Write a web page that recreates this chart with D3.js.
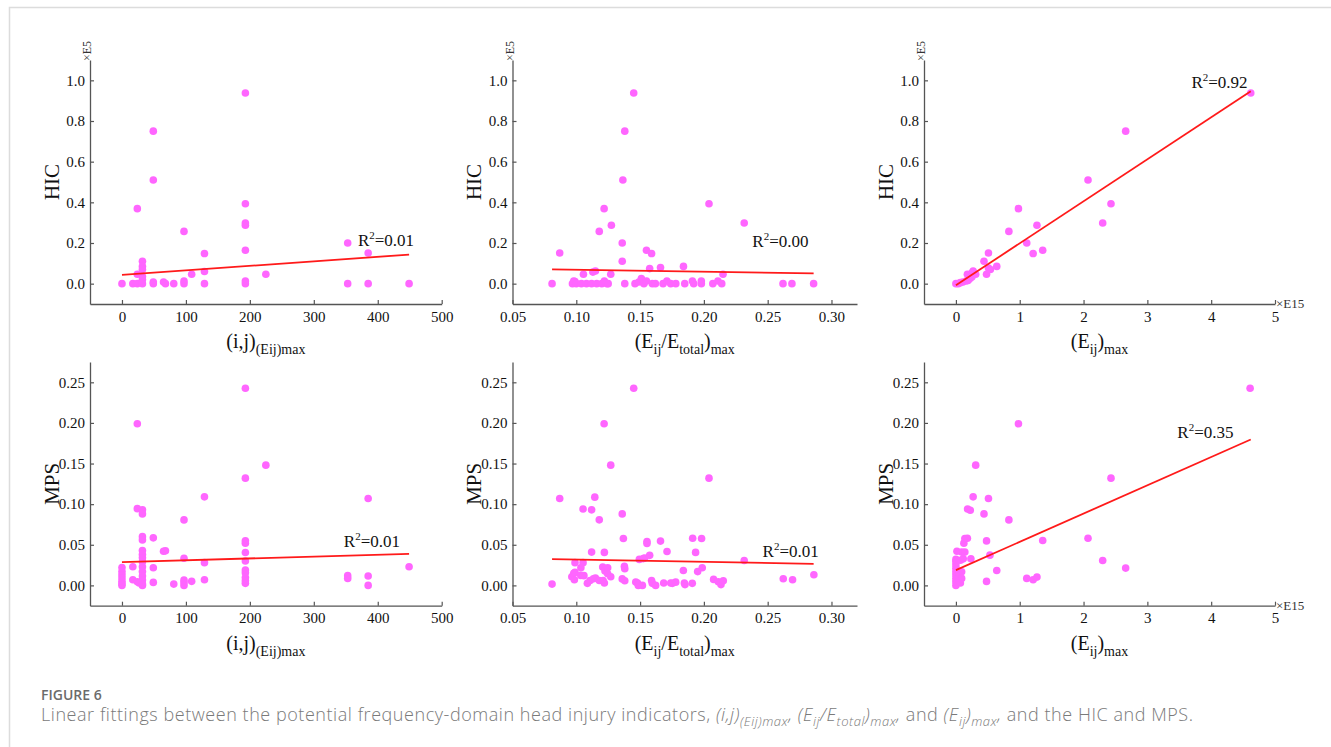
<!DOCTYPE html>
<html>
<head>
<meta charset="utf-8">
<script src="https://cdn.jsdelivr.net/npm/d3@7"></script>
<style>
  body { margin: 0; background: #fff; }
  svg { display: block; }
</style>
</head>
<body>
<div id="chart"></div>
<script>
// ---- data ----
// HIC (x1e5) against (i,j)(Eij)max
const hicIj = [[0,0],[17,0],[24,0],[24,0.369],[24,0.046],[32,0.11],[32,0.085],[32,0.07],[32,0.035],[32,0.02],[32,0],
  [49,0.75],[49,0.51],[49,0.008],[49,0],[65,0.008],[68,0],[81,0],[97,0.257],[97,0.013],[97,0],[109,0.046],
  [129,0.148],[129,0.06],[129,0],[193,0.938],[193,0.393],[193,0.298],[193,0.287],[193,0.164],[193,0.013],[193,0],
  [225,0.046],[353,0.2],[353,0],[385,0.151],[385,0],[449,0]];
// HIC against (Eij/Etotal)max
const hicRatio = [[0.081,0],[0.087,0.151],[0.097,0],[0.099,0.01],[0.098,0.013],[0.1056,0.046],[0.100,0],[0.104,0],[0.108,0],
  [0.112,0],[0.116,0],[0.120,0],[0.124,0],[0.113,0.057],[0.115,0.062],[0.118,0.257],[0.1218,0.369],[0.122,0.013],
  [0.1275,0.287],[0.127,0.046],[0.125,0],[0.136,0.2],[0.136,0.11],[0.1365,0.51],[0.138,0.75],[0.138,0],[0.145,0.938],
  [0.146,0],[0.149,0.008],[0.151,0.025],[0.153,0],[0.155,0.164],[0.155,0.013],[0.1575,0.074],[0.159,0.148],[0.1596,0],
  [0.162,0],[0.166,0.079],[0.168,0],[0.171,0.013],[0.174,0],[0.178,0],[0.184,0.085],[0.185,0],[0.191,0.013],[0.192,0],
  [0.198,0.013],[0.198,0],[0.204,0.393],[0.207,0],[0.211,0.013],[0.214,0],[0.215,0.046],[0.2316,0.298],[0.262,0],
  [0.269,0],[0.286,0]];
// HIC against (Eij)max (x1e15)
const hicE = [[0,0],[0.037,0],[0.07,0.005],[0.11,0.008],[0.16,0.013],[0.19,0.016],[0.18,0.046],[0.22,0.025],[0.25,0.052],
  [0.27,0.062],[0.31,0.046],[0.25,0.033],[0.44,0.11],[0.51,0.151],[0.48,0.046],[0.51,0.077],[0.54,0.07],[0.64,0.085],
  [0.83,0.257],[0.98,0.369],[1.11,0.2],[1.21,0.148],[1.27,0.287],[1.36,0.164],[2.07,0.51],[2.30,0.298],[2.43,0.393],
  [2.66,0.75],[4.62,0.938]];
// MPS against (i,j)(Eij)max
const mpsIj = [[0,0.022],[0,0.017],[0,0.013],[0,0.009],[0,0.005],[0,0.002],[0,0],[17,0.023],[17,0.007],[24,0.199],
  [24,0.0945],[24,0.0045],[27,0.003],[32,0.093],[32,0.088],[32,0.06],[32,0.056],[32,0.043],[32,0.038],[32,0.034],
  [32,0.029],[32,0.023],[32,0.017],[32,0.0115],[32,0.0065],[32,0.0016],[32,0],[49,0.0585],[49,0.0217],[49,0.0037],
  [65,0.042],[68,0.0425],[81,0.0016],[97,0.0806],[97,0.0335],[97,0.0065],[97,0.0037],[97,0],[109,0.005],[129,0.109],
  [129,0.028],[129,0.007],[193,0.2426],[193,0.132],[193,0.055],[193,0.052],[193,0.0405],[193,0.030],[193,0.019],
  [193,0.0155],[193,0.0098],[193,0.0057],[193,0.0025],[225,0.148],[353,0.012],[353,0.0086],[385,0.107],[385,0.0115],
  [385,0],[449,0.023]];
// MPS against (Eij/Etotal)max
const mpsRatio = [[0.081,0.0016],[0.087,0.107],[0.0965,0.0107],[0.098,0.0148],[0.0985,0.007],[0.099,0.028],[0.099,0.016],
  [0.1036,0.0217],[0.1035,0.0123],[0.1053,0.094],[0.1053,0.028],[0.106,0.012],[0.1087,0.0025],[0.1108,0.0061],
  [0.112,0.041],[0.112,0.093],[0.1134,0.0082],[0.1145,0.1086],[0.115,0.009],[0.118,0.0807],[0.118,0.006],[0.1207,0.0225],
  [0.121,0.006],[0.1218,0.199],[0.122,0.0406],[0.122,0.003],[0.1225,0.0176],[0.1246,0.0217],[0.1246,0.0143],[0.127,0.148],
  [0.127,0.0107],[0.136,0.088],[0.136,0.008],[0.1369,0.0578],[0.1377,0.0234],[0.138,0.0205],[0.138,0.0057],[0.145,0.2426],
  [0.1466,0.0041],[0.148,0.003],[0.1486,0],[0.1494,0.032],[0.1518,0],[0.1525,0.033],[0.1536,0.0336],[0.1554,0.054],
  [0.1554,0.0516],[0.1575,0.037],[0.159,0.006],[0.1596,0.0025],[0.1622,0],[0.166,0.0545],[0.1685,0.003],[0.1711,0.0418],
  [0.174,0.003],[0.1753,0.0025],[0.1779,0.004],[0.1839,0.0184],[0.1847,0.003],[0.1852,0.001],[0.1909,0.0025],
  [0.1912,0.058],[0.1935,0.0406],[0.1951,0.017],[0.1982,0.0578],[0.1987,0.0217],[0.204,0.132],[0.2076,0.0074],
  [0.2113,0.0045],[0.2134,0.001],[0.2152,0.0057],[0.2316,0.0307],[0.2622,0.0082],[0.2695,0.007],[0.2862,0.0131]];
// MPS against (Eij)max (x1e15)
const mpsE = [[0,0],[0,0.0045],[0,0.0086],[0,0.0127],[0,0.0168],[0,0.021],[0,0.025],[0,0.029],[0,0.032],[0.016,0.042],
  [0.05,0.015],[0.07,0.003],[0.07,0.031],[0.09,0.041],[0.09,0.0168],[0.09,0.0086],[0.115,0.0327],[0.125,0.052],
  [0.14,0.041],[0.14,0.0577],[0.18,0.058],[0.183,0.094],[0.225,0.0925],[0.235,0.0327],[0.27,0.109],[0.31,0.148],
  [0.44,0.088],[0.48,0.0548],[0.48,0.0049],[0.51,0.107],[0.533,0.0372],[0.64,0.0184],[0.83,0.0806],[0.98,0.199],
  [1.11,0.0086],[1.21,0.007],[1.27,0.0102],[1.36,0.0552],[2.07,0.058],[2.30,0.0307],[2.43,0.132],[2.66,0.0213],
  [4.61,0.2426]];

// fitted lines [x start, y start, x end, y end] and R² text
const fits = [[0,0.043,449,0.143],[0.081,0.070,0.286,0.051],[0,-0.008,4.62,0.946],
              [0,0.0286,449,0.0389],[0.081,0.0324,0.286,0.0266],[0,0.0188,4.62,0.1796]];
const r2Text = ["0.01","0.00","0.92","0.01","0.01","0.35"];
const r2Pos = [[369,0.187],[0.238,0.182],[3.69,0.96],[347,0.047],[0.246,0.035],[3.47,0.181]];

// ticks
const ticksIj = [0,100,200,300,400,500];
const ticksRatio = [0.05,0.10,0.15,0.20,0.25,0.30];
const ticksE = [0,1,2,3,4,5];
const ticksHIC = [0,0.2,0.4,0.6,0.8,1.0];
const ticksMPS = [0,0.05,0.10,0.15,0.20,0.25];

const width = 1331, height = 747;
const serif = "'Liberation Serif','Times New Roman',serif";

const svg = d3.select("#chart").append("svg")
    .attr("width", width).attr("height", height)
    .style("font-family", serif);

// page frame
svg.append("path").attr("d", `M9.5,${height} V7.5 H${width}`)
   .attr("fill", "none").attr("stroke", "#dcdcdc").attr("stroke-width", 1.5);

// columns (x) and rows (y)
const cols = [
  {range: [90, 441.7], domain: [-50, 500], ticks: ticksIj, fmt: d3.format("d"),
   label: [["(i,j)"], ["(Eij)max","sub"]], exp: null},
  {range: [512.5, 857], domain: [0.05, 0.32], ticks: ticksRatio, fmt: d3.format(".2f"),
   label: [["(E"],["ij","sub"],["/E"],["total","sub"],[")"],["max","sub"]], exp: null},
  {range: [924, 1275], domain: [-0.5, 5], ticks: ticksE, fmt: d3.format("d"),
   label: [["(E"],["ij","sub"],[")"],["max","sub"]], exp: "×E15"}
];
const rows = [
  {range: [304, 60], domain: [-0.1, 1.1], ticks: ticksHIC, fmt: d3.format(".1f"), label: "HIC", exp: "×E5"},
  {range: [605.7, 362], domain: [-0.025, 0.275], ticks: ticksMPS, fmt: d3.format(".2f"), label: "MPS", exp: null}
];
const panels = [hicIj, hicRatio, hicE, mpsIj, mpsRatio, mpsE];

// text with sub/superscripts
function rich(sel, parts, size, small) {
  let shift = 0;
  parts.forEach(([s, k, it]) => {
    const target = k === "sub" ? size * 0.3 : k === "sup" ? -size * 0.42 : 0;
    sel.append("tspan")
       .attr("dy", target - shift)
       .style("font-size", k ? small + "px" : null)
       .style("font-style", it ? "italic" : null)
       .text(s);
    shift = target;
  });
}

panels.forEach((data, i) => {
  const c = cols[i % 3], r = rows[Math.floor(i / 3)];
  const x = d3.scaleLinear().domain(c.domain).range(c.range);
  const y = d3.scaleLinear().domain(r.domain).range(r.range);
  const g = svg.append("g");

  const xAxis = g.append("g")
      .attr("transform", `translate(0,${r.range[0]})`)
      .call(d3.axisBottom(x).tickValues(c.ticks).tickFormat(c.fmt)
            .tickSizeInner(-4).tickSizeOuter(0).tickPadding(7));
  const yAxis = g.append("g")
      .attr("transform", `translate(${c.range[0]},0)`)
      .call(d3.axisLeft(y).tickValues(r.ticks).tickFormat(r.fmt)
            .tickSizeInner(-4).tickSizeOuter(0).tickPadding(5));
  [xAxis, yAxis].forEach(a => {
    a.attr("font-size", null).attr("font-family", null);
    a.selectAll(".tick text").style("font-family", serif).style("font-size", "15px").attr("fill", "#111");
    a.select(".domain").attr("stroke", "#555").attr("stroke-width", 1.3);
    a.selectAll(".tick line").attr("stroke", "#555").attr("stroke-width", 1.2);
  });

  // points
  g.selectAll("circle").data(data).join("circle")
    .attr("cx", d => x(d[0])).attr("cy", d => y(d[1])).attr("r", 3.8)
    .attr("fill", "#ff66ff");

  // fit line
  const f = fits[i];
  g.append("line")
    .attr("x1", x(f[0])).attr("y1", y(f[1])).attr("x2", x(f[2])).attr("y2", y(f[3]))
    .attr("stroke", "#ff1a1a").attr("stroke-width", 1.8);

  // R² label
  const rt = g.append("text").attr("x", x(r2Pos[i][0])).attr("y", y(r2Pos[i][1]))
    .attr("font-size", 17).attr("fill", "#111");
  rich(rt, [["R"], ["2", "sup"], ["=" + r2Text[i]]], 17, 11);

  // x title
  const xt = g.append("text")
    .attr("x", (c.range[0] + c.range[1]) / 2).attr("y", r.range[0] + 44)
    .attr("text-anchor", "middle").attr("font-size", 20).attr("fill", "#111");
  rich(xt, c.label, 20, 14);

  // y title
  g.append("text")
    .attr("transform", `translate(${c.range[0] - 31.5},${(r.range[0] + r.range[1]) / 2}) rotate(-90)`)
    .attr("text-anchor", "middle").attr("font-size", 21).attr("fill", "#111")
    .text(r.label);

  if (r.exp) {
    g.append("text")
      .attr("transform", `translate(${c.range[0] + 1},${r.range[1] + 1}) rotate(-90)`)
      .attr("font-size", 12).attr("fill", "#333").text(r.exp);
  }
  if (c.exp) {
    g.append("text").attr("x", c.range[1] + 1).attr("y", r.range[0] + 4)
      .attr("font-size", 13).attr("fill", "#333").text(c.exp);
  }
});

// caption
const sans = "'Open Sans','Noto Sans',sans-serif";
svg.append("text").attr("x", 41).attr("y", 700)
   .style("font-family", sans).attr("font-size", 14).attr("font-weight", 600)
   .attr("fill", "#6b6b6b").text("FIGURE 6");
const cap = svg.append("text").attr("x", 41).attr("y", 721)
   .style("font-family", sans).attr("font-size", 18).attr("font-weight", 300)
   .style("letter-spacing", "0.55px").attr("fill", "#7a7a7a");
rich(cap, [
  ["Linear fittings between the potential frequency-domain head injury indicators, "],
  ["(i,j)", "", 1], ["(Eij)max", "sub", 1], [", ", "", 1],
  ["(E", "", 1], ["ij", "sub", 1], ["/E", "", 1], ["total", "sub", 1], [")", "", 1], ["max", "sub", 1], [", ", "", 1],
  ["and "], ["(E", "", 1], ["ij", "sub", 1], [")", "", 1], ["max", "sub", 1], [", ", "", 1],
  ["and the HIC and MPS."]
], 18, 13);
</script>
</body>
</html>
